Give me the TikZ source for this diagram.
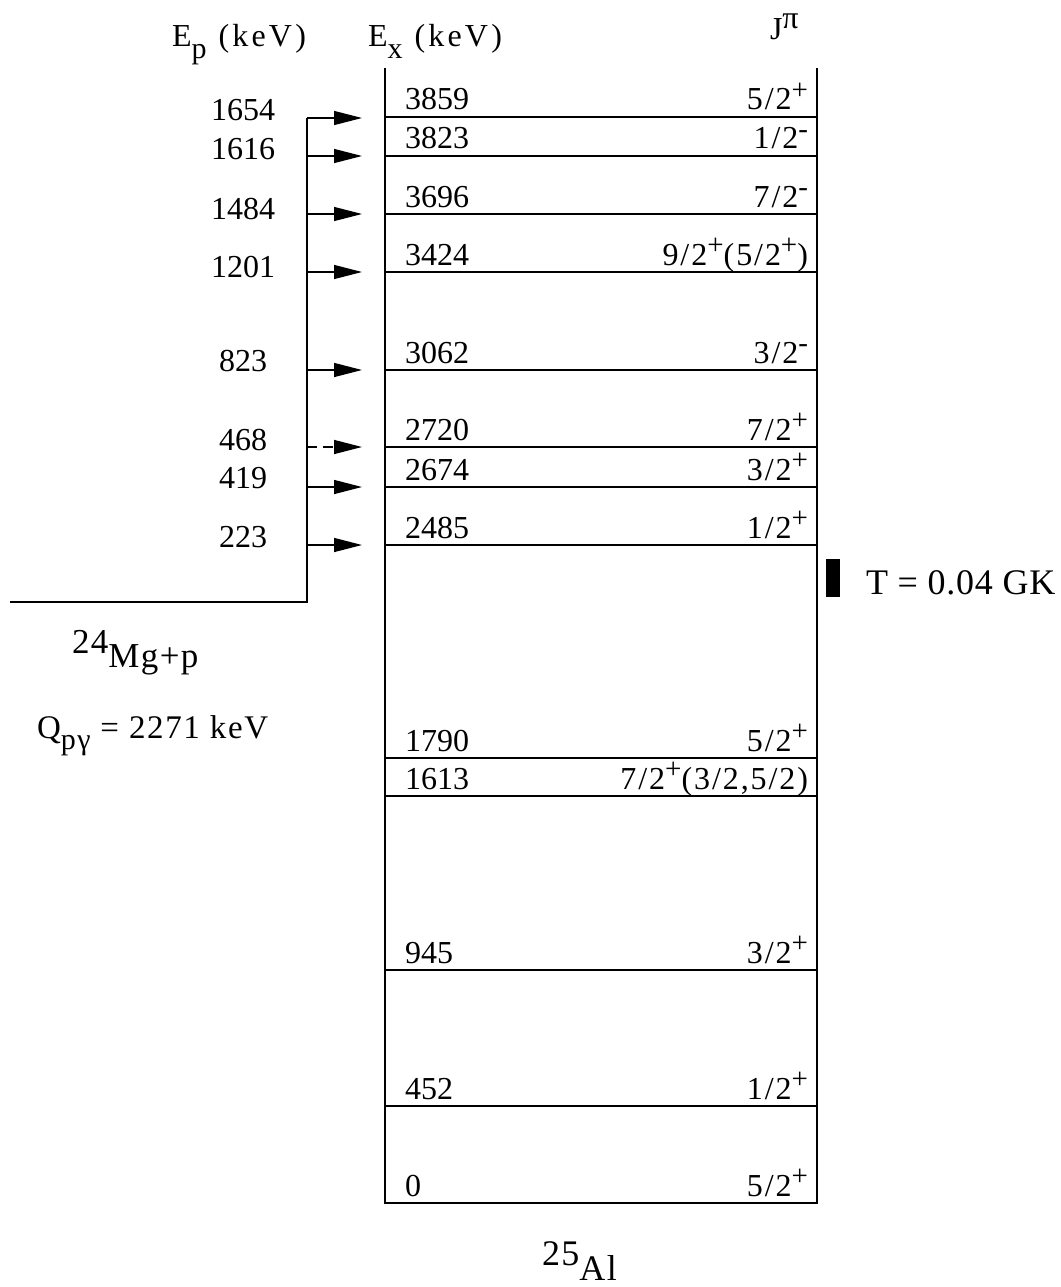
\documentclass[tikz,border=0pt]{standalone}
\usepackage{fontspec}
\setmainfont{Liberation Serif}
\usetikzlibrary{arrows.meta}
\newcommand\supx[1]{\raisebox{0.34em}{\fontsize{29}{30}\selectfont #1}}
\newcommand\subx[1]{\raisebox{-0.36em}{\fontsize{30}{32}\selectfont #1}}
\newcommand\lev[4]{%
  \coordinate (#1a) at (385,#2);
  \coordinate (#1b) at (817,#2);
  \draw[lvl] (#1a) -- (#1b);
  \node[exlab] (#1e) at (405,{#2-7}) {#3};
  \node[jlab] (#1j) at (808,{#2-7}) {#4};}
\newcommand\ep[5]{%
  \coordinate (#1s) at (307,#2);
  \coordinate (#1t) at (362,#2);
  \draw[#5] (#1s) -- (#1t);
  \node[eplab] (#1n) at (243,#4) {#3};}
\begin{document}
\begin{tikzpicture}[x=1pt,y=-1pt,
  every node/.style={inner sep=0pt, outer sep=0pt, font=\fontsize{32}{36}\selectfont},
  lvl/.style={line width=1.6pt},
  frame/.style={line width=1.6pt},
  arr/.style={line width=1.4pt, -{Triangle[length=28pt,width=14pt]}},
  darr/.style={arr, dash pattern=on 10pt off 6pt},
  exlab/.style={anchor=base west},
  jlab/.style={anchor=base east, font=\fontsize{32}{36}\selectfont\addfontfeature{LetterSpace=6}},
  eplab/.style={anchor=base}]
\useasboundingbox (0,0) rectangle (1060,1287);
% headers
\node[anchor=base west] (hep) at (172,47) {E\subx{p}\hspace{4pt} \addfontfeature{LetterSpace=10}(keV)};
\node[anchor=base west] (hex) at (368,47) {E\subx{x}\hspace{4pt} \addfontfeature{LetterSpace=10}(keV)};
\node[anchor=base west] (hj) at (770,40) {J\raisebox{0.36em}{\fontsize{32}{34}\selectfont π}};
% frame of 25Al levels
\coordinate (tl) at (385,68);
\coordinate (tr) at (817,68);
\coordinate (bl) at (385,1203);
\coordinate (br) at (817,1203);
\draw[frame] (tl) -- (bl) -- (br) -- (tr);
% levels
\lev{l3859}{117}{3859}{5/2\supx{+}}
\lev{l3823}{156}{3823}{1/2\supx{-}}
\lev{l3696}{214}{3696}{7/2\supx{-}}
\lev{l3424}{272}{3424}{9/2\supx{+}(5/2\supx{+})}
\lev{l3062}{370}{3062}{3/2\supx{-}}
\lev{l2720}{447}{2720}{7/2\supx{+}}
\lev{l2674}{487}{2674}{3/2\supx{+}}
\lev{l2485}{545}{2485}{1/2\supx{+}}
\lev{l1790}{758}{1790}{5/2\supx{+}}
\lev{l1613}{796}{1613}{7/2\supx{+}(3/2,5/2)}
\lev{l945}{970}{945}{3/2\supx{+}}
\lev{l452}{1106}{452}{1/2\supx{+}}
\lev{l0}{1203}{0}{5/2\supx{+}}
% proton entrance
\coordinate (ptop) at (307,118);
\coordinate (pbot) at (307,602);
\coordinate (pleft) at (10,602);
\draw[frame] (ptop) -- (pbot) -- (pleft);
\ep{a1654}{118}{1654}{121}{arr}
\ep{a1616}{156}{1616}{160}{arr}
\ep{a1484}{214}{1484}{219}{arr}
\ep{a1201}{272}{1201}{277}{arr}
\ep{a823}{370}{823}{371}{arr}
\ep{a468}{447}{468}{450}{darr}
\ep{a419}{487}{419}{488}{arr}
\ep{a223}{545}{223}{547}{arr}
% temperature marker
\node[fill=black, minimum width=14pt, minimum height=38pt, anchor=north west] (bar) at (826,559) {};
\node[anchor=base west, font=\fontsize{36}{38}\selectfont\addfontfeature{LetterSpace=2}] (temp) at (866,594) {T = 0.04 GK};
% reaction labels
\node[anchor=base west, font=\fontsize{35}{38}\selectfont\addfontfeature{LetterSpace=4}] (mg) at (72,667) {\raisebox{0.4em}{24}Mg+p};
\node[anchor=base west, font=\fontsize{33}{36}\selectfont\addfontfeature{LetterSpace=5}] (q) at (37,738) {Q\subx{pγ} = 2271 keV};
\node[anchor=base west, font=\fontsize{36}{38}\selectfont\addfontfeature{LetterSpace=4}] (al) at (542,1280) {\raisebox{0.4em}{25}Al};
\end{tikzpicture}
\end{document}
